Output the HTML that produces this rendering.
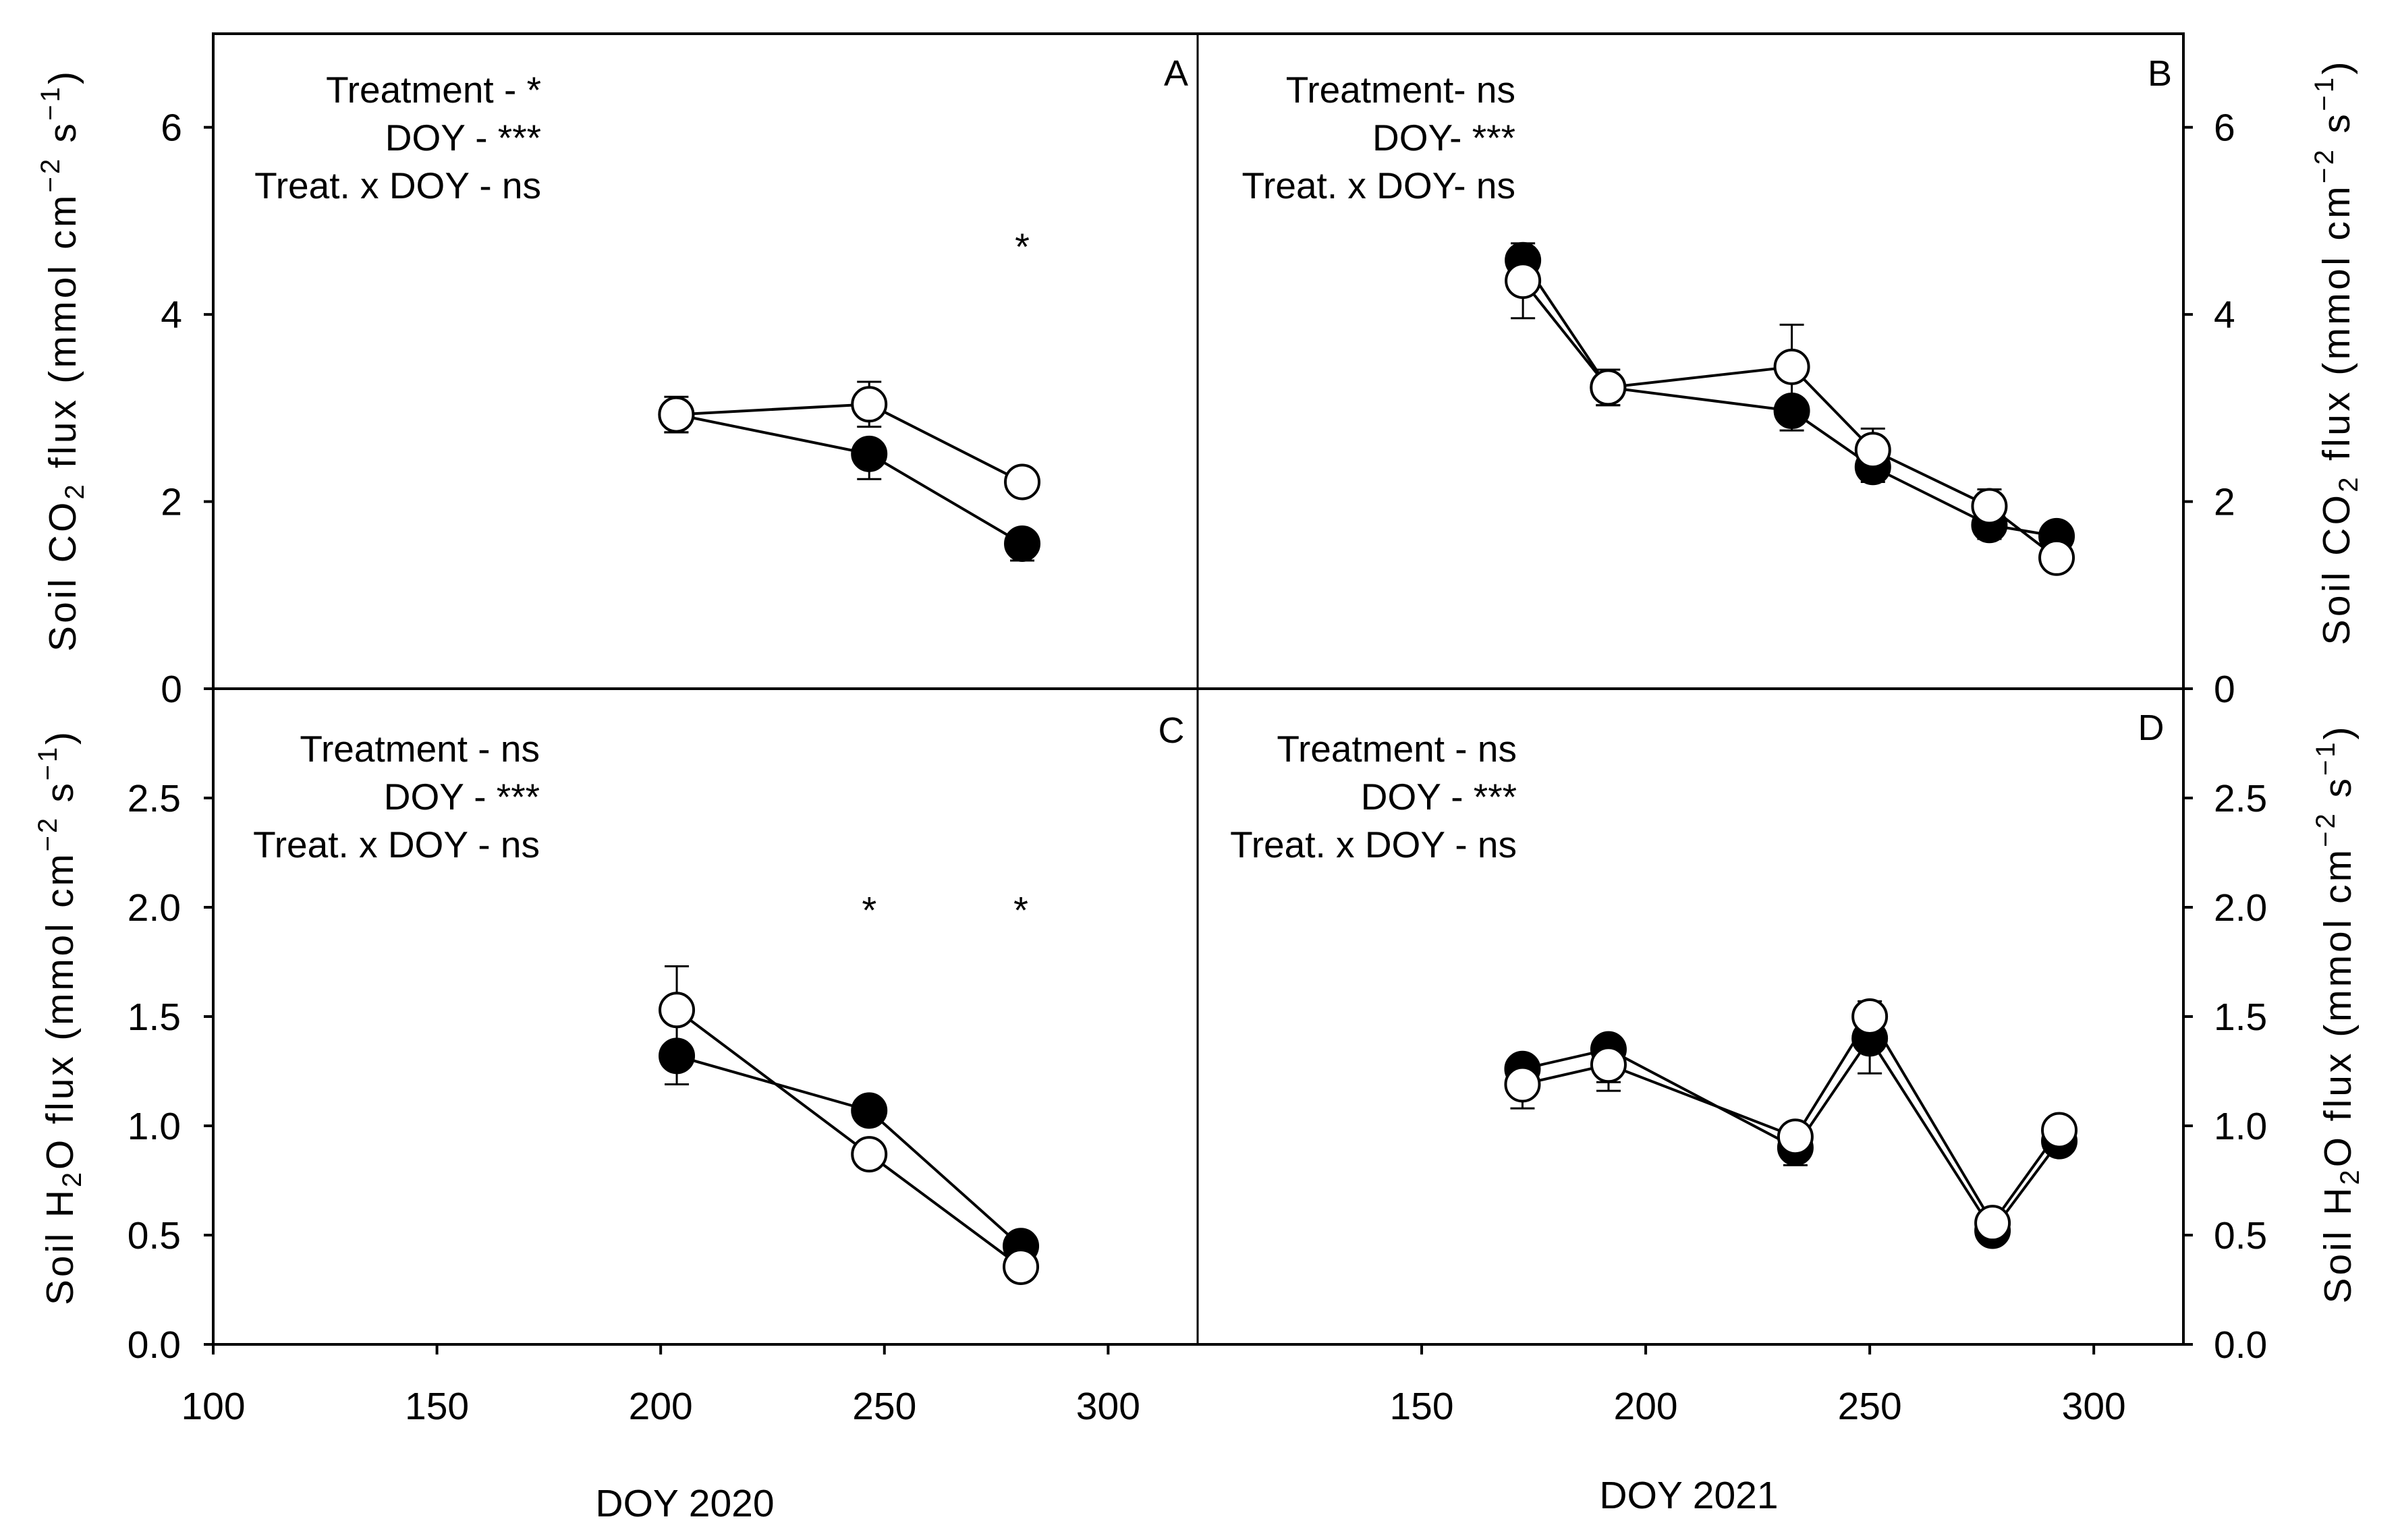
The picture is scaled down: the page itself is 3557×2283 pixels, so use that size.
<!DOCTYPE html>
<html><head><meta charset="utf-8"><style>
html,body{margin:0;padding:0;background:#fff}
svg{display:block}
text{font-family:"Liberation Sans",sans-serif;fill:#000}
</style></head><body>
<svg id="chart" width="3557" height="2283" viewBox="0 0 3557 2283" xmlns="http://www.w3.org/2000/svg"></svg>
<script>
// Panel A: soil CO2 2020
const doyA = [203.5, 246.6, 280.8];
const coA_filled = [2.93, 2.51, 1.55];
const coA_filledErr = [0.19, 0.27, 0.18];
const coA_open = [2.93, 3.04, 2.21];
const coA_openErr = [0.19, 0.24, 0.0];
// Panel B: soil CO2 2021
const doyB = [172.6, 191.6, 232.6, 250.7, 276.7, 291.7];
const coB_filled = [4.58, 3.22, 2.97, 2.37, 1.75, 1.63];
const coB_filledErr = [0.2, 0.19, 0.21, 0.16, 0.15, 0.0];
const coB_open = [4.36, 3.22, 3.44, 2.55, 1.95, 1.40];
const coB_openErr = [0.4, 0.19, 0.45, 0.23, 0.18, 0.0];
// Panel C: soil H2O 2020
const doyC = [203.6, 246.6, 280.5];
const hC_filled = [1.32, 1.07, 0.45];
const hC_filledErr = [0.13, 0.0, 0.0];
const hC_open = [1.53, 0.87, 0.355];
const hC_openErr = [0.2, 0.0, 0.0];
// Panel D: soil H2O 2021
const doyD = [172.5, 191.7, 233.4, 250.0, 277.4, 292.3];
const hD_filled = [1.26, 1.35, 0.90, 1.40, 0.52, 0.93];
const hD_filledErr = [0.09, 0.15, 0.08, 0.16, 0.0, 0.0];
const hD_open = [1.19, 1.28, 0.95, 1.50, 0.555, 0.98];
const hD_openErr = [0.11, 0.12, 0.0, 0.07, 0.0, 0.0];
// significance asterisks
const sigA_doy = [280.8]; const sigA_val = [4.8];
const sigC_doy = [246.6, 280.5]; const sigC_val = [2.02, 2.02];
// ticks
const coTicks = [0, 2, 4, 6];
const hTicks = [0.0, 0.5, 1.0, 1.5, 2.0, 2.5];
const xTicksC = [100, 150, 200, 250, 300];
const xTicksD = [150, 200, 250, 300];

const NS = "http://www.w3.org/2000/svg";
const svg = document.getElementById('chart');
function mk(tag, attrs, parent) {
  const e = document.createElementNS(NS, tag);
  for (const k in attrs) e.setAttribute(k, attrs[k]);
  (parent || svg).appendChild(e);
  return e;
}
const L = 316, M = 1775, R = 3236, T = 50, MY = 1021, B = 1993;
const xL = d => L + (d - 100) * (M - L) / 220;
const xR = d => M + (d - 100) * (R - M) / 220;
const yTop = v => MY - v * (MY - T) / 7;
const yBot = v => B - v * (B - MY) / 3;

const frame = mk('rect', {x: L, y: T, width: R - L, height: B - T, fill: 'none', stroke: '#000', 'stroke-width': 4});


const vdiv = mk('line', {x1: M, y1: T, x2: M, y2: B, stroke: '#000', 'stroke-width': 3});


const hdiv = mk('line', {x1: L, y1: MY, x2: R, y2: MY, stroke: '#000', 'stroke-width': 4});



function txt(s, x, y, anchor, size, name) {
  const t = mk('text', {x: x, y: y, 'text-anchor': anchor, 'font-size': size});
  t.textContent = s;
  
  
  return t;
}
coTicks.forEach(v => {
  const y = yTop(v);
  const a = mk('line', {x1: L - 14, y1: y, x2: L, y2: y, stroke: '#000', 'stroke-width': 4});
  
  
  txt(String(v), 270, y + 20, 'end', 57, 'y-tick-label-left-co2');
  const b = mk('line', {x1: R, y1: y, x2: R + 14, y2: y, stroke: '#000', 'stroke-width': 4});
  
  
  txt(String(v), 3281, y + 20, 'start', 57, 'y-tick-label-right-co2');
});
hTicks.forEach(v => {
  const y = yBot(v);
  const a = mk('line', {x1: L - 14, y1: y, x2: L, y2: y, stroke: '#000', 'stroke-width': 4});
  
  
  txt(v.toFixed(1), 268, y + 20, 'end', 57, 'y-tick-label-left-h2o');
  const b = mk('line', {x1: R, y1: y, x2: R + 14, y2: y, stroke: '#000', 'stroke-width': 4});
  
  
  txt(v.toFixed(1), 3281, y + 20, 'start', 57, 'y-tick-label-right-h2o');
});
xTicksC.forEach(d => {
  const x = xL(d);
  const a = mk('line', {x1: x, y1: B, x2: x, y2: B + 15, stroke: '#000', 'stroke-width': 4});
  
  
  txt(String(d), x, 2104, 'middle', 57, 'x-tick-label-2020');
});
xTicksD.forEach(d => {
  const x = xR(d);
  const a = mk('line', {x1: x, y1: B, x2: x, y2: B + 15, stroke: '#000', 'stroke-width': 4});
  
  
  txt(String(d), x, 2104, 'middle', 57, 'x-tick-label-2021');
});
txt('DOY 2020', 1015, 2248, 'middle', 57, 'x-axis-title-2020');
txt('DOY 2021', 2503, 2236, 'middle', 57, 'x-axis-title-2021');

function ytitle(gas, sub, cx, cy, len, name) {
  const t = mk('text', {x: 0, y: 0, 'text-anchor': 'middle', 'font-size': 57,
    transform: 'translate(' + cx + ',' + cy + ') rotate(-90)', textLength: len, lengthAdjust: 'spacing'});
  t.innerHTML = 'Soil ' + gas + '<tspan font-size="40" dy="12">2</tspan><tspan dy="-12">' + sub +
    ' flux (mmol cm</tspan><tspan font-size="40" dy="-24">\u22122</tspan><tspan dy="24"> s</tspan><tspan font-size="40" dy="-24">\u22121</tspan><tspan dy="24">)</tspan>';
  
  
}
ytitle('CO', '', 112, 536, 860, 'y-axis-title-co2-left');
ytitle('H', 'O', 108, 1510, 850, 'y-axis-title-h2o-left');
ytitle('CO', '', 3482, 524, 865, 'y-axis-title-co2-right');
ytitle('H', 'O', 3484, 1505, 855, 'y-axis-title-h2o-right');

txt('A', 1743, 127, 'middle', 54, 'panel-label-a');
txt('B', 3201, 127, 'middle', 54, 'panel-label-b');
txt('C', 1736, 1101, 'middle', 54, 'panel-label-c');
txt('D', 3188, 1097, 'middle', 54, 'panel-label-d');

const statsA = ['Treatment - *', 'DOY - ***', 'Treat. x DOY - ns'];
const statsB = ['Treatment- ns', 'DOY- ***', 'Treat. x DOY- ns'];
const statsC = ['Treatment - ns', 'DOY - ***', 'Treat. x DOY - ns'];
const statsD = ['Treatment - ns', 'DOY - ***', 'Treat. x DOY - ns'];
[[statsA, 802, 152], [statsB, 2246, 152], [statsC, 800, 1129], [statsD, 2248, 1129]].forEach(([arr, x, y0], pi) => {
  arr.forEach((s, i) => txt(s, x, y0 + i * 71, 'end', 55, 'stats-line-' + 'abcd'[pi]));
});

function series(xs, ys, errs, xf, yf, filled, name) {
  const g = mk('g', {});
  
  
  xs.forEach((d, i) => {
    if (errs[i] > 0) {
      const x = xf(d), y = yf(ys[i]);
      const y2 = filled ? yf(ys[i] - errs[i]) : yf(ys[i] + errs[i]);
      const e = mk('path', {d: 'M' + x + ' ' + y + 'V' + y2 + 'M' + (x - 18) + ' ' + y2 + 'H' + (x + 18), stroke: '#000', 'stroke-width': 3, fill: 'none'}, g);
      
      
    }
  });
  const pts = xs.map((d, i) => xf(d) + ',' + yf(ys[i])).join(' ');
  const pl = mk('polyline', {points: pts, fill: 'none', stroke: '#000', 'stroke-width': 4}, g);
  
  
  return g;
}
function markers(xs, ys, xf, yf, filled, name) {
  xs.forEach((d, i) => {
    const c = mk('circle', {cx: xf(d), cy: yf(ys[i]), r: 25, fill: filled ? '#000' : '#fff', stroke: '#000', 'stroke-width': 4});
    
    
  });
}
function twoSided(xs, ys, errs, xf, yf) {
  xs.forEach((d, i) => {
    if (errs[i] > 0) {
      const x = xf(d), y2 = yf(ys[i] - errs[i]);
      const e = mk('path', {d: 'M' + x + ' ' + yf(ys[i]) + 'V' + y2 + 'M' + (x - 18) + ' ' + y2 + 'H' + (x + 18), stroke: '#000', 'stroke-width': 3, fill: 'none'});
      
      
    }
  });
}
function panel(xs, f, fe, o, oe, xf, yf, tag) {
  series(xs, f, fe, xf, yf, true, 'series-filled-' + tag);
  series(xs, o, oe, xf, yf, false, 'series-open-' + tag);
  twoSided(xs, o, oe, xf, yf);
  markers(xs, f, xf, yf, true, 'point-filled-' + tag);
  markers(xs, o, xf, yf, false, 'point-open-' + tag);
}
panel(doyA, coA_filled, coA_filledErr, coA_open, coA_openErr, xL, yTop, 'a');
panel(doyB, coB_filled, coB_filledErr, coB_open, coB_openErr, xR, yTop, 'b');
panel(doyC, hC_filled, hC_filledErr, hC_open, hC_openErr, xL, yBot, 'c');
panel(doyD, hD_filled, hD_filledErr, hD_open, hD_openErr, xR, yBot, 'd');

sigA_doy.forEach((d, i) => txt('*', xL(d), yTop(sigA_val[i]) + 30, 'middle', 56, 'significance-asterisk-a'));
sigC_doy.forEach((d, i) => txt('*', xL(d), yBot(sigC_val[i]) + 30, 'middle', 56, 'significance-asterisk-c'));
</script>
</body></html>
